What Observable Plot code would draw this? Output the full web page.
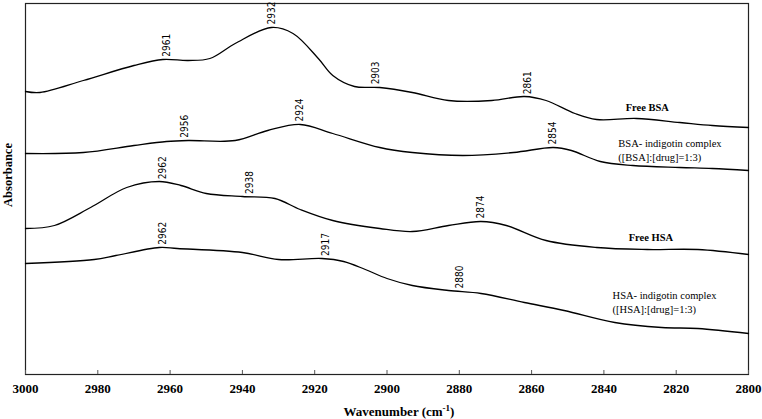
<!DOCTYPE html>
<html>
<head>
<meta charset="utf-8">
<script src="https://cdn.jsdelivr.net/npm/d3@7"></script>
<script src="https://cdn.jsdelivr.net/npm/@observablehq/plot@0.6"></script>
<style>
  body { margin: 0; background: #fff; }
  #chart svg { display: block; }
</style>
</head>
<body>
<div id="chart"></div>
<script>
// ---- Data (absorbance in arbitrary, offset units) ----
const wnFreeBSA  = [3000, 2996, 2984, 2970, 2962, 2955, 2949, 2942, 2932, 2926, 2919, 2915, 2909, 2902, 2893, 2883, 2871, 2862, 2856, 2848, 2842, 2831, 2819, 2810, 2800];
const absFreeBSA = [2.83, 2.82, 2.94, 3.09, 3.15, 3.14, 3.16, 3.31, 3.47, 3.41, 3.16, 2.99, 2.88, 2.87, 2.82, 2.74, 2.74, 2.78, 2.74, 2.61, 2.55, 2.56, 2.52, 2.49, 2.47];

const wnBSAcx  = [3000, 2984, 2970, 2961, 2955, 2942, 2933, 2924, 2915, 2902, 2893, 2879, 2865, 2854, 2849, 2841, 2832, 2819, 2810, 2800];
const absBSAcx = [2.21, 2.22, 2.29, 2.33, 2.34, 2.34, 2.44, 2.50, 2.41, 2.27, 2.22, 2.19, 2.22, 2.27, 2.24, 2.13, 2.09, 2.07, 2.06, 2.04];

const wnFreeHSA  = [3000, 2992, 2982, 2972, 2963, 2957, 2950, 2940, 2931, 2924, 2915, 2902, 2893, 2883, 2874, 2867, 2856, 2842, 2828, 2814, 2800];
const absFreeHSA = [1.46, 1.49, 1.67, 1.87, 1.93, 1.89, 1.81, 1.78, 1.76, 1.65, 1.54, 1.46, 1.43, 1.49, 1.53, 1.49, 1.34, 1.27, 1.25, 1.25, 1.20];

const wnHSAcx  = [3000, 2981, 2975, 2963, 2958, 2940, 2930, 2918, 2912, 2906, 2900, 2893, 2883, 2874, 2862, 2851, 2837, 2824, 2814, 2800];
const absHSAcx = [1.11, 1.15, 1.19, 1.27, 1.26, 1.22, 1.15, 1.16, 1.13, 1.05, 0.96, 0.89, 0.84, 0.81, 0.72, 0.64, 0.52, 0.47, 0.46, 0.41];

const seriesNames = ["Free BSA", "BSA- indigotin complex", "Free HSA", "HSA- indigotin complex"];

// peak labels per series
const peaksFreeBSA = [2961, 2932, 2903, 2861];
const peaksBSAcx   = [2956, 2924, 2854];
const peaksFreeHSA = [2962, 2938, 2874];
const peaksHSAcx   = [2962, 2917, 2880];

// series name annotations
const nameLabels = ["Free BSA", "BSA- indigotin complex\n([BSA]:[drug]=1:3)", "Free HSA", "HSA- indigotin complex\n([HSA]:[drug]=1:3)"];
const nameX      = [2828, 2836, 2827, 2837.6];
const nameY      = [2.67, 2.25, 1.37, 0.73];
const nameAnchor = ["middle", "start", "middle", "start"];

const xTicks = [3000, 2980, 2960, 2940, 2920, 2900, 2880, 2860, 2840, 2820, 2800];

// ---- Build tables ----
const wns  = [wnFreeBSA, wnBSAcx, wnFreeHSA, wnHSAcx];
const abss = [absFreeBSA, absBSAcx, absFreeHSA, absHSAcx];
const peakSets = [peaksFreeBSA, peaksBSAcx, peaksFreeHSA, peaksHSAcx];

const rows = [];
seriesNames.forEach((s, i) => wns[i].forEach((w, j) => rows.push({series: s, wn: w, a: abss[i][j]})));

function interp(i, w) {
  const W = wns[i], A = abss[i];
  for (let k = 0; k < W.length - 1; k++) {
    if (W[k] >= w && w >= W[k + 1]) {
      const t = (W[k] - w) / (W[k] - W[k + 1]);
      return A[k] + t * (A[k + 1] - A[k]);
    }
  }
  return A[A.length - 1];
}
const peaks = [];
peakSets.forEach((ps, i) => ps.forEach(p => peaks.push({wn: p, a: interp(i, p), text: String(p)})));

const names = nameLabels.map((t, i) => ({text: t, wn: nameX[i], a: nameY[i], anchor: nameAnchor[i]}));

const serif = "'Liberation Serif', 'Times New Roman', Times, serif";
const narrow = "'Liberation Sans Narrow', 'DejaVu Sans Condensed', 'Arial Narrow', sans-serif";

const plot = Plot.plot({
  width: 762,
  height: 419,
  marginTop: 3,
  marginBottom: 45,
  marginLeft: 25,
  marginRight: 14,
  style: {background: "#fff", color: "#000", fontFamily: serif},
  x: {domain: [3000, 2800]},
  y: {domain: [0, 3.71], axis: null},
  marks: [
    Plot.frame({stroke: "#222", strokeWidth: 1.2}),
    Plot.tickX(xTicks, {x: d => d, insetTop: 367, stroke: "#555"}),
    Plot.axisX(xTicks, {tickSize: 0, tickPadding: 9, fontSize: 13, fontWeight: "bold", label: null, tickFormat: d => String(d)}),
    Plot.line(rows, {x: "wn", y: "a", z: "series", stroke: "#000", strokeWidth: 1.3, curve: "catmull-rom"}),
    Plot.text(peaks, {x: "wn", y: "a", text: "text", rotate: -90, textAnchor: "start", lineAnchor: "middle", dy: -3, fontSize: 10, fontFamily: narrow, fill: "#000"}),
    Plot.text(names.filter(d => d.anchor === "middle"), {x: "wn", y: "a", text: "text", textAnchor: "middle", fontSize: 10.5, fontWeight: "bold", fill: "#000"}),
    Plot.text(names.filter(d => d.anchor === "start"), {x: "wn", y: "a", text: "text", textAnchor: "start", lineHeight: 1.3, fontSize: 10.5, fill: "#000"})
  ]
});

document.getElementById("chart").appendChild(plot);

const svg = d3.select(plot);
// force serif on the tick labels
svg.selectAll("g[aria-label='x-axis tick label'], g[aria-label='x-axis tick label'] text")
  .attr("font-family", serif).style("font-family", serif);

const t = svg.append("text")
  .attr("x", 399).attr("y", 416)
  .attr("text-anchor", "middle")
  .attr("font-family", serif).attr("font-weight", "bold").attr("font-size", 13)
  .attr("fill", "#000");
t.append("tspan").text("Wavenumber (cm");
t.append("tspan").attr("font-size", 9).attr("dy", -5).text("-1");
t.append("tspan").attr("dy", 5).text(")");

svg.append("text")
  .attr("transform", "translate(12,175) rotate(-90)")
  .attr("text-anchor", "middle")
  .attr("font-family", serif).attr("font-weight", "bold").attr("font-size", 12.5)
  .attr("fill", "#000")
  .text("Absorbance");
</script>
</body>
</html>
